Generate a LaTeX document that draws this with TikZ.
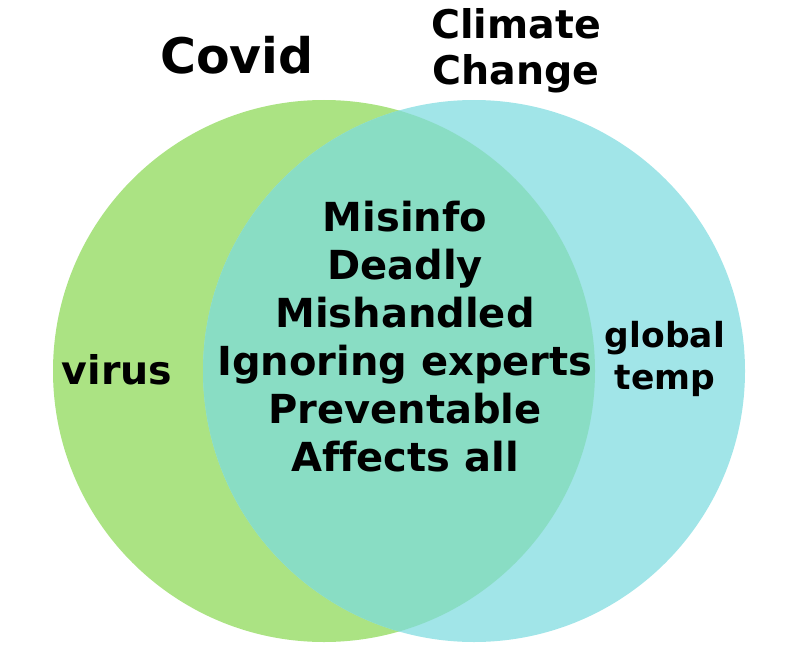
\documentclass[tikz,border=0pt]{standalone}
\usepackage{fontspec}
\setmainfont{DejaVu Sans}[Ligatures=NoCommon]
\definecolor{covidgreen}{RGB}{171,227,131}
\definecolor{climatecyan}{RGB}{161,229,232}
\definecolor{overlapteal}{RGB}{137,221,196}
\tikzset{
  setlabel/.style={font=\bfseries\fontsize{49}{50}\selectfont, align=center},
  midlabel/.style={font=\bfseries\fontsize{40}{48}\selectfont, align=center},
  sidelabel/.style={font=\bfseries\fontsize{39.5}{42}\selectfont, align=center},
}
\begin{document}
\begin{tikzpicture}[x=1pt,y=-1pt]
  \useasboundingbox (0,0) rectangle (792,666);
  % the two sets
  \fill[covidgreen] (324,371) circle (271);
  \fill[climatecyan] (474,371) circle (271);
  \begin{scope}
    \clip (324,371) circle (271);
    \fill[overlapteal] (474,371) circle (271);
  \end{scope}
  % set names
  \node[setlabel] (covid) at (237,55) {Covid};
  \node[setlabel, font=\bfseries\fontsize{39.5}{46}\selectfont] (climate) at (516,51) {Climate\\Change};
  % shared traits
  \node[midlabel] (shared) at (405,337) {Misinfo\\Deadly\\Mishandled\\Ignoring experts\\Preventable\\Affects all};
  \node[sidelabel] (virus) at (117,370) {virus};
  \node[sidelabel, font=\bfseries\fontsize{34.5}{42}\selectfont] (temp) at (665,359) {global\\temp};
\end{tikzpicture}
\end{document}
